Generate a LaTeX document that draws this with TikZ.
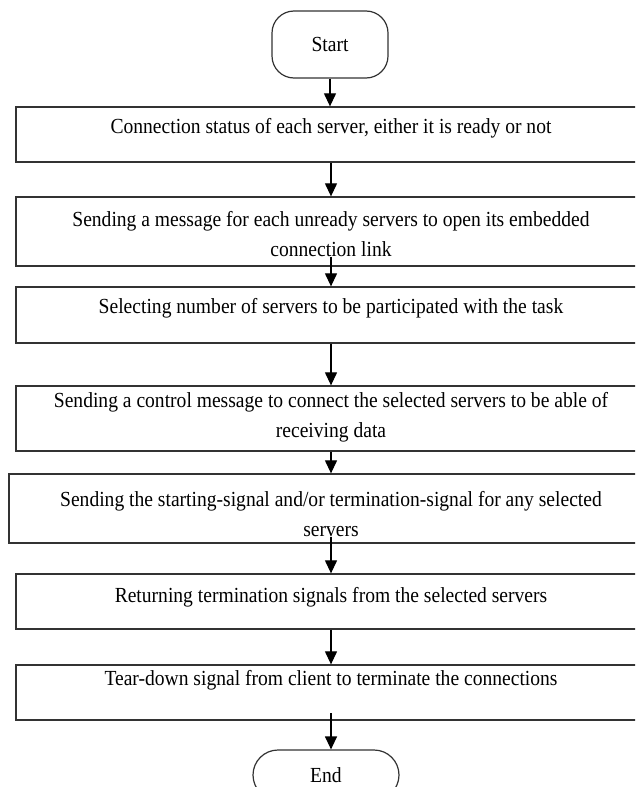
\documentclass[tikz,border=0pt]{standalone}
\usepackage{fontspec}
\setmainfont{Liberation Serif}[FakeStretch=0.91]
\usetikzlibrary{arrows.meta}
\begin{document}
\begin{tikzpicture}[x=1pt,y=-1pt,
  box/.style={draw=black!80, line width=1.3pt, minimum width=630pt, inner sep=0pt},
  txt/.style={font=\fontsize{21.5}{30}\selectfont, align=center, inner sep=0pt},
  term/.style={draw=black!80, line width=1.2pt, inner sep=0pt, font=\fontsize{21.5}{30}\selectfont},
  arr/.style={line width=1.2pt, -{Triangle[width=12pt,length=13pt]}}]
\clip (0,0) rectangle (635,787);
\fill[white] (0,0) rectangle (635,787);

\node[term, rounded corners=22pt, minimum width=116pt, minimum height=67pt] (start) at (330,44.5) {Start};

\node[box, minimum height=55pt] (b1) at (331,134.5) {};
\node[txt] (t1) at (331,128) {Connection status of each server, either it is ready or not};

\node[box, minimum height=69pt] (b2) at (331,231.5) {};
\node[txt] (t2) at (331,234) {Sending a message for each unready servers to open its embedded\\connection link};

\node[box, minimum height=56pt] (b3) at (331,315) {};
\node[txt] (t3) at (331,308) {Selecting number of servers to be participated with the task};

\node[box, minimum height=65pt] (b4) at (331,418.5) {};
\node[txt] (t4) at (331,417.5) {Sending a control message to connect the selected servers to be able of\\receiving data};

\node[box, minimum width=644pt, minimum height=69pt] (b5) at (331,508.5) {};
\node[txt] (t5) at (331,514) {Sending the starting-signal and/or termination-signal for any selected\\servers};

\node[box, minimum height=55pt] (b6) at (331,601.5) {};
\node[txt] (t6) at (331,597) {Returning termination signals from the selected servers};

\node[box, minimum height=55pt] (b7) at (331,692.5) {};
\node[txt] (t7) at (331,680) {Tear-down signal from client to terminate the connections};

\node[term, rounded corners=25pt, minimum width=146pt, minimum height=50pt] (end) at (326,775) {End};

\coordinate (c7) at (331,713);

\draw[arr] (start.south) -- (start.south |- b1.north);
\draw[arr] (b1.south) -- (b2.north);
\draw[arr] (t2.south) -- (b3.north);
\draw[arr] (b3.south) -- (b4.north);
\draw[arr] (b4.south) -- (b5.north);
\draw[arr] (t5.south) -- (b6.north);
\draw[arr] (b6.south) -- (b7.north);
\draw[arr] (c7) -- (c7 |- end.north);
\end{tikzpicture}
\end{document}
